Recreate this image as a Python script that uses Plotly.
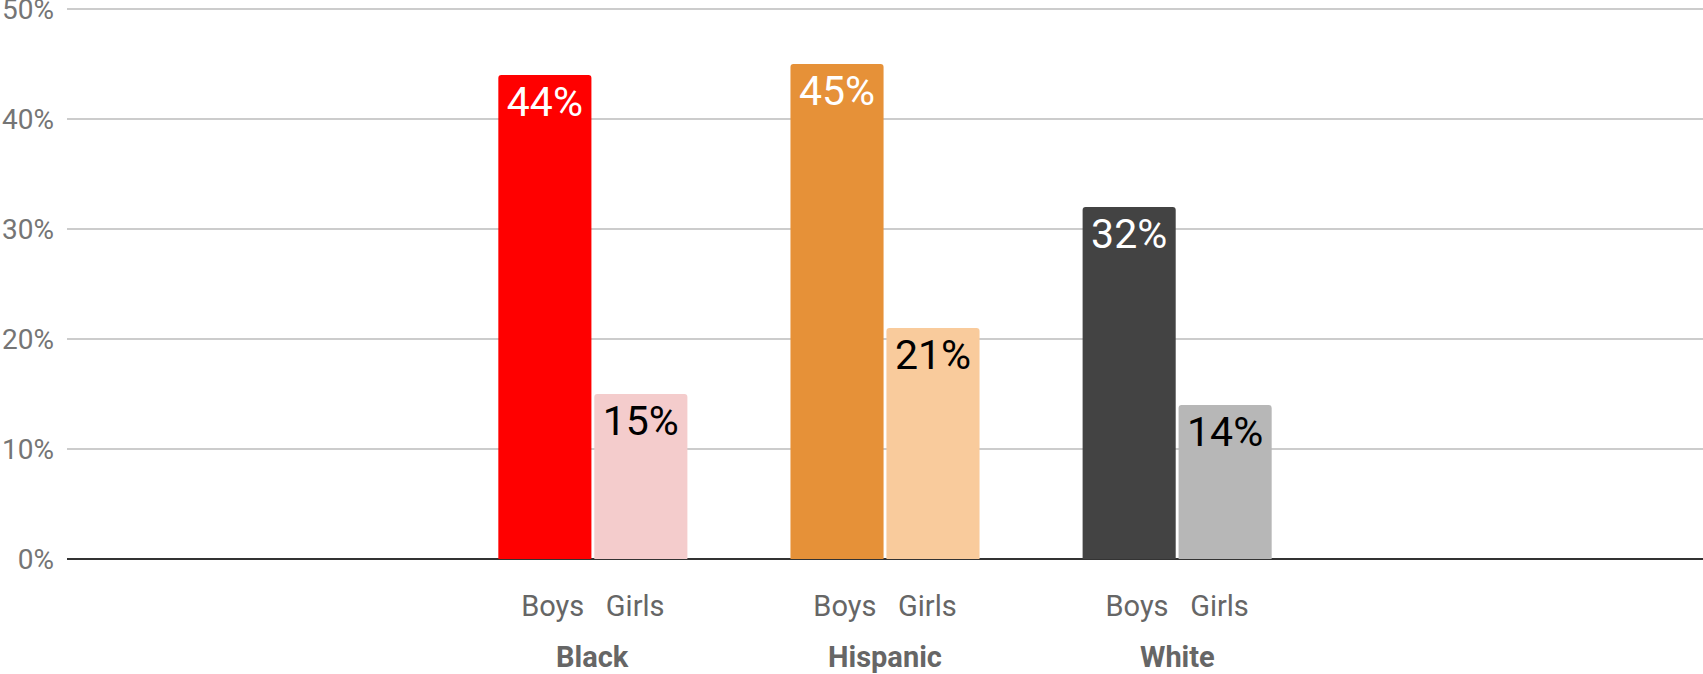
import plotly.graph_objects as go

categories = ["Black", "Hispanic", "White"]
boys = [44, 45, 32]
girls = [15, 21, 14]
boys_colors = ["#ff0000", "#e69138", "#434343"]
girls_colors = ["#f4cccc", "#f9cb9c", "#b7b7b7"]
y_ticks = [0, 10, 20, 30, 40, 50]
y_tick_labels = ["0%", "10%", "20%", "30%", "40%", "50%"]
sub_label = "Boys\u00a0\u00a0\u00a0Girls"

FONT = "Roboto"

fig = go.Figure()
fig.add_trace(go.Bar(
    x=categories, y=boys, name="Boys",
    marker=dict(color=boys_colors, line=dict(width=0)),
    text=[f"{v}%" for v in boys], textposition="inside", insidetextanchor="end",
    textangle=0, constraintext="none",
    textfont=dict(family=FONT, size=41, color="white"),
))
fig.add_trace(go.Bar(
    x=categories, y=girls, name="Girls",
    marker=dict(color=girls_colors, line=dict(width=0)),
    text=[f"{v}%" for v in girls], textposition="inside", insidetextanchor="end",
    textangle=0, constraintext="none",
    textfont=dict(family=FONT, size=41, color="black"),
))

for c in categories:
    fig.add_annotation(x=c, y=0, xref="x", yref="y", text=f"<b>{c}</b>",
                       showarrow=False, yshift=-98, yanchor="middle",
                       font=dict(family=FONT, size=29, color="#666666"))

fig.update_layout(
    width=1703, height=674,
    margin=dict(l=67, r=0, t=8, b=115, autoexpand=False),
    plot_bgcolor="white", paper_bgcolor="white",
    barmode="group", bargap=0.343, bargroupgap=0.03,
    barcornerradius=3,
    showlegend=False,
    font=dict(family=FONT),
)
fig.update_xaxes(
    range=[-1.8, 3.8],
    tickvals=categories, ticktext=[sub_label] * len(categories),
    tickfont=dict(family=FONT, size=29, color="#666666"),
    showgrid=False, ticks="", ticklabelstandoff=27, automargin=False,
)
fig.update_yaxes(
    range=[0, 50.1], tickvals=y_ticks, ticktext=y_tick_labels,
    tickfont=dict(family=FONT, size=28, color="#757575"),
    showgrid=True, gridcolor="#cccccc", gridwidth=1.5,
    zeroline=True, zerolinecolor="#333333", zerolinewidth=2,
    ticklabelstandoff=12, ticklabeloverflow="allow", automargin=False,
)

fig.write_html("out.html")
